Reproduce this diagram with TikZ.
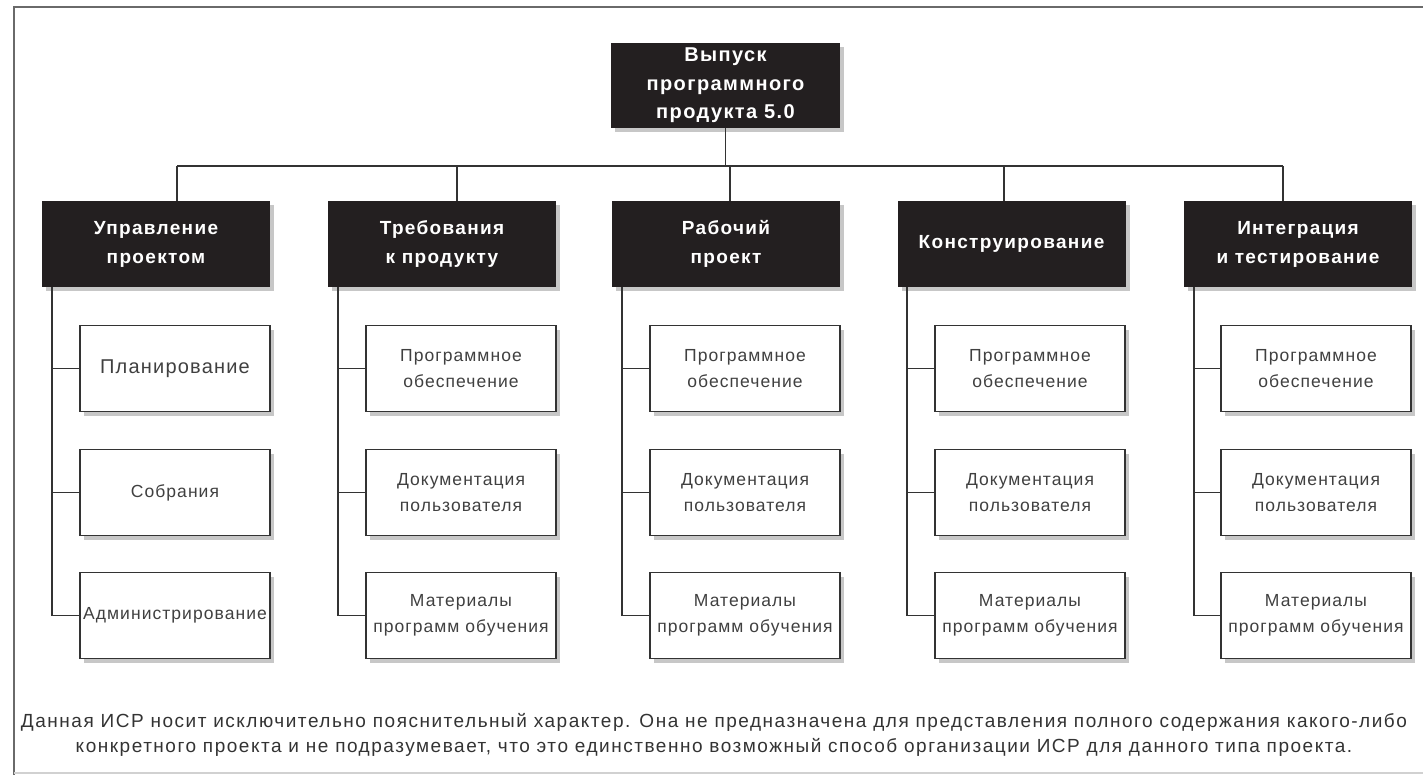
\documentclass[tikz,border=0pt]{standalone}
\usepackage{fontspec}
\setmainfont{Liberation Sans}
\newfontfamily\widehead[LetterSpace=7]{Liberation Sans}
\newfontfamily\wideleaf[LetterSpace=6]{Liberation Sans}
\newfontfamily\widenote[LetterSpace=8]{Liberation Sans}
\usetikzlibrary{shadows,calc}
\definecolor{ink}{HTML}{231F20}
\definecolor{wire}{HTML}{333333}
\definecolor{frame}{HTML}{6A6A6A}
\tikzset{
  shade/.style={drop shadow={shadow xshift=4pt,shadow yshift=-4pt,fill=black!22,opacity=1}},
  rootbox/.style={shade,fill=ink,text=white,inner sep=0,align=center,
    minimum width=229,minimum height=85,font=\widehead\bfseries\fontsize{20}{28.5}\selectfont},
  headbox/.style={shade,fill=ink,text=white,inner sep=0,align=center,
    minimum width=228,minimum height=86,font=\widehead\bfseries\fontsize{19}{29}\selectfont},
  leafbox/.style={shade,fill=white,draw=wire,line width=1.6,inner sep=0,align=center,
    minimum width=190,minimum height=86,text=black!75,font=\wideleaf\fontsize{17.5}{26}\selectfont},
  wireline/.style={draw=wire,line width=1.8},
}
\begin{document}
\begin{tikzpicture}[x=1pt,y=-1pt]
\useasboundingbox (0,0) rectangle (1423,775);
% frame
\draw[frame,line width=2.5] (1423,7) -- (14,7) -- (14,775);
\draw[black!18,line width=1.5] (14,773) -- (1423,773);

% root
\node[rootbox] (root) at (725.5,85.5) {Выпуск\\программного\\продукта 5.0};

% level 1
\node[headbox] (h1) at (156,244) {Управление\\проектом};
\node[headbox] (h2) at (442,244) {Требования\\к продукту};
\node[headbox] (h3) at (726,244) {Рабочий\\проект};
\node[headbox] (h4) at (1011.5,244) {Конструирование};
\node[headbox] (h5) at (1298,244) {Интеграция\\и тестирование};

% bus coordinates
\coordinate (b1) at (177,166);
\coordinate (b2) at (457,166);
\coordinate (b3) at (730,166);
\coordinate (b4) at (1004,166);
\coordinate (b5) at (1283,166);

% children column 1
\node[leafbox,font=\wideleaf\fontsize{20}{26}\selectfont] (c11) at (175,368.5) {Планирование};
\node[leafbox] (c12) at (175,492.5) {Собрания};
\node[leafbox] (c13) at (175,615.5) {Администрирование};
% columns 2..5
\foreach \i/\x in {2/461,3/745,4/1030,5/1316}{
  \node[leafbox] (c\i1) at (\x,368.5) {Программное\\обеспечение};
  \node[leafbox] (c\i2) at (\x,492.5) {Документация\\пользователя};
  \node[leafbox] (c\i3) at (\x,615.5) {Материалы\\программ обучения};
}

% connectors root -> heads
\draw[wireline] (root.south) -- (root.south |- b3);
\draw[wireline] (b1) -- (b5);
\foreach \i in {1,...,5}{
  \draw[wireline] (b\i) -- (b\i |- h\i.north);
}
% connectors heads -> children
\foreach \i in {1,...,5}{
  \foreach \j in {1,2,3}{
    \draw[wireline] ([xshift=10pt]h\i.south west) |- (c\i\j.west);
  }
}

% note
\node[align=center,text=black!80,font=\widenote\fontsize{19}{25}\selectfont] (note) at (714,734.5)
  {Данная ИСР носит исключительно пояснительный характер. Она не предназначена для представления полного содержания какого-либо\\
   конкретного проекта и не подразумевает, что это единственно возможный способ организации ИСР для данного типа проекта.};
\end{tikzpicture}
\end{document}
